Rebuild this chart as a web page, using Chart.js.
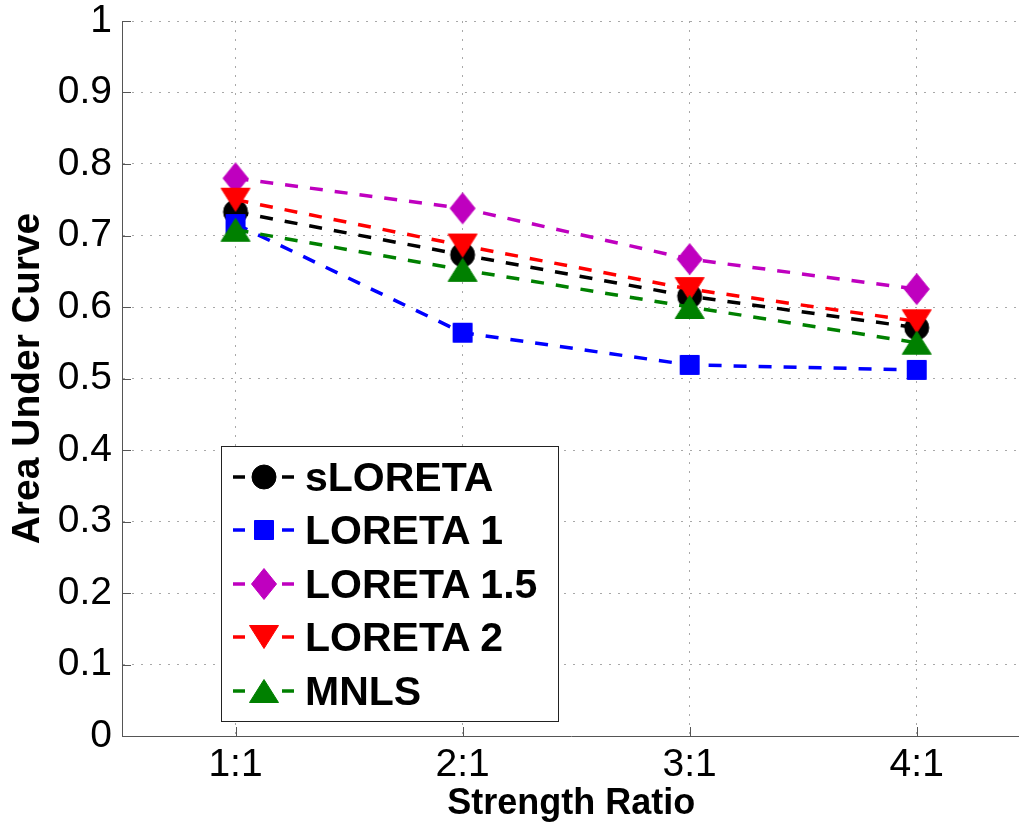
<!DOCTYPE html>
<html>
<head>
<meta charset="utf-8">
<script src="https://cdn.jsdelivr.net/npm/chart.js@4/dist/chart.umd.min.js"></script>
<style>
  html, body { margin: 0; padding: 0; background: #fff; }
  #wrap { position: relative; width: 1019px; height: 826px; overflow: hidden; }
  #chart { position: absolute; left: 0; top: 0; }
  #legend {
    position: absolute; left: 221px; top: 446px; width: 336px; height: 274px;
    border: 1px solid #222; background: #fff;
    font: bold 41px 'Liberation Sans', Arial, Helvetica, sans-serif; color: #000;
  }
  #legend .row { position: absolute; left: 0; height: 40px; display: flex; align-items: center; }
  #legend canvas { margin-left: 10px; }
  #legend span { margin-left: 9px; line-height: 40px; white-space: nowrap; }
</style>
</head>
<body>
<div id="wrap">
  <canvas id="chart" width="1036" height="826"></canvas>
  <div id="legend"></div>
</div>
<script>
const $ = id => document.getElementById(id);
const FONT = "'Liberation Sans', Arial, Helvetica, sans-serif";

// data
const xVals = [1, 2, 3, 4];
const xLabels = ['1:1', '2:1', '3:1', '4:1'];
const sLORETA = [0.733, 0.673, 0.615, 0.571];
const loreta1 = [0.716, 0.564, 0.519, 0.512];
const loreta15 = [0.780, 0.738, 0.667, 0.625];
const loreta2 = [0.750, 0.686, 0.625, 0.580];
const mnls = [0.708, 0.652, 0.600, 0.550];

const series = [
  { name: 'sLORETA', data: sLORETA, color: '#000000', marker: 'circle' },
  { name: 'LORETA 1', data: loreta1, color: '#0000ff', marker: 'square' },
  { name: 'LORETA 1.5', data: loreta15, color: '#bf00bf', marker: 'diamond' },
  { name: 'LORETA 2', data: loreta2, color: '#ff0000', marker: 'tridown' },
  { name: 'MNLS', data: mnls, color: '#008000', marker: 'triup' },
];

// matlab-like marker shapes, drawn once onto small canvases
function shapePath(ctx, shape, cx, cy) {
  ctx.beginPath();
  if (shape === 'circle') ctx.arc(cx, cy, 12, 0, Math.PI * 2);
  else if (shape === 'square') ctx.rect(cx - 9.5, cy - 9.5, 19, 19);
  else if (shape === 'diamond') { ctx.moveTo(cx, cy - 15.5); ctx.lineTo(cx + 12.5, cy); ctx.lineTo(cx, cy + 15.5); ctx.lineTo(cx - 12.5, cy); }
  else if (shape === 'tridown') { ctx.moveTo(cx - 14.5, cy - 11.5); ctx.lineTo(cx + 14.5, cy - 11.5); ctx.lineTo(cx, cy + 11.5); }
  else if (shape === 'triup') { ctx.moveTo(cx - 14.5, cy + 11.5); ctx.lineTo(cx + 14.5, cy + 11.5); ctx.lineTo(cx, cy - 11.5); }
  ctx.closePath();
}
function makeMarker(shape, color) {
  const c = document.createElement('canvas');
  c.width = 34; c.height = 34;
  const ctx = c.getContext('2d');
  shapePath(ctx, shape, 17, 17);
  ctx.fillStyle = color; ctx.fill();
  ctx.lineWidth = 1; ctx.strokeStyle = color; ctx.stroke();
  return c;
}
function makeSwatch(shape, color) {
  const c = document.createElement('canvas');
  c.width = 64; c.height = 36;
  const ctx = c.getContext('2d');
  ctx.strokeStyle = color; ctx.lineWidth = 3.5;
  ctx.beginPath(); ctx.moveTo(1, 18); ctx.lineTo(13, 18); ctx.moveTo(50, 18); ctx.lineTo(62, 18); ctx.stroke();
  shapePath(ctx, shape, 32, 18);
  ctx.fillStyle = color; ctx.fill();
  ctx.lineWidth = 1; ctx.stroke();
  return c;
}

// inward tick marks like matlab
const inTicks = {
  id: 'inTicks',
  beforeDatasetsDraw(chart) {
    const { ctx, chartArea: a, scales: { x, y } } = chart;
    ctx.save();
    ctx.strokeStyle = '#555'; ctx.lineWidth = 1;
    ctx.beginPath();
    y.ticks.forEach(t => { const p = Math.round(y.getPixelForValue(t.value)) + 0.5; ctx.moveTo(a.left, p); ctx.lineTo(a.left + 9, p); });
    x.ticks.forEach(t => { const p = Math.round(x.getPixelForValue(t.value)) + 0.5; ctx.moveTo(p, a.bottom); ctx.lineTo(p, a.bottom - 9); });
    ctx.stroke();
    ctx.restore();
  }
};

const n = series.length;
new Chart($('chart'), {
  type: 'line',
  data: {
    datasets: series.map((s, i) => ({
      label: s.name,
      data: xVals.map((x, j) => ({ x, y: s.data[j] })),
      borderColor: s.color,
      backgroundColor: s.color,
      borderWidth: 3.5,
      borderDash: [13, 12],
      tension: 0,
      fill: false,
      pointStyle: makeMarker(s.marker, s.color),
      pointRadius: 12,
      order: n - i,
    })),
  },
  options: {
    responsive: false,
    animation: false,
    events: [],
    layout: { padding: { top: 21, right: 0, left: 0, bottom: 0 } },
    plugins: { legend: { display: false }, tooltip: { enabled: false } },
    scales: {
      x: {
        type: 'linear',
        min: 0.5,
        max: 4.457,
        afterBuildTicks: s => { s.ticks = xVals.map(v => ({ value: v })); },
        afterFit: s => { s.height = 90; s.paddingLeft = 0; s.paddingRight = 0; },
        ticks: {
          callback: v => xLabels[xVals.indexOf(v)],
          font: { family: FONT, size: 39, lineHeight: 1.0 },
          color: '#000',
          padding: 10,
          maxRotation: 0,
          autoSkip: false,
        },
        grid: { color: '#a8a8a8', lineWidth: 1, drawTicks: false },
        border: { display: true, color: '#555', width: 1, dash: [2, 7] },
        title: { display: true, text: 'Strength Ratio', color: '#000', font: { family: FONT, size: 36, weight: 'bold', lineHeight: 1.0 }, padding: { top: 0, bottom: 4 } },
      },
      y: {
        min: 0,
        max: 1,
        afterFit: s => { s.width = 122; s.paddingTop = 0; s.paddingBottom = 0; },
        ticks: {
          stepSize: 0.1,
          callback: v => String(+v.toFixed(1)),
          font: { family: FONT, size: 39, lineHeight: 1.0 },
          color: '#000',
          padding: 10,
        },
        grid: { color: '#a8a8a8', lineWidth: 1, drawTicks: false },
        border: { display: true, color: '#555', width: 1, dash: [2, 7] },
        title: { display: true, text: 'Area Under Curve', color: '#000', font: { family: FONT, size: 39, weight: 'bold', lineHeight: 1.0 }, padding: { top: 9, bottom: 0 } },
      },
    },
  },
  plugins: [inTicks],
});

// legend box inside the axes
const rowCenters = [477, 530, 584, 637, 691];
series.forEach((s, i) => {
  const row = document.createElement('div');
  row.className = 'row';
  row.style.top = (rowCenters[i] - 447 - 20) + 'px';
  const sw = makeSwatch(s.marker, s.color);
  const label = document.createElement('span');
  label.textContent = s.name;
  row.appendChild(sw);
  row.appendChild(label);
  $('legend').appendChild(row);
});
</script>
</body>
</html>
